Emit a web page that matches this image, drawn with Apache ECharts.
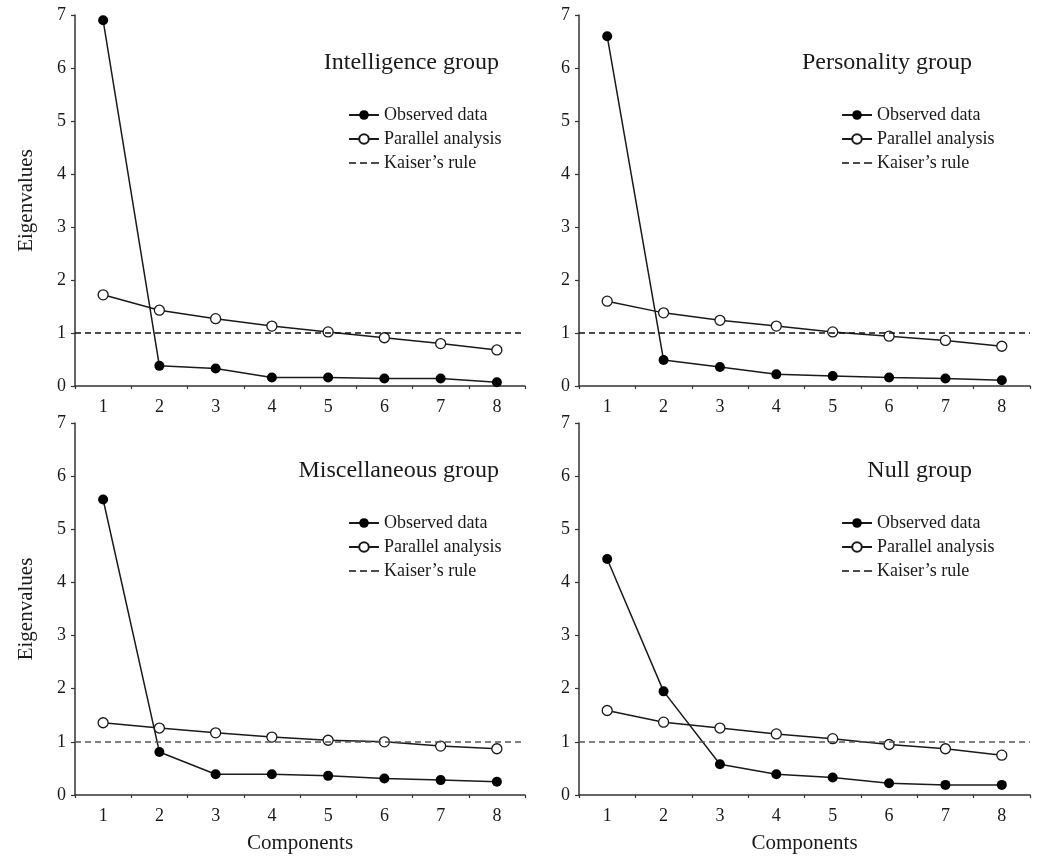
<!DOCTYPE html>
<html>
<head>
<meta charset="utf-8">
<title>Eigenvalues by group</title>
<script src="https://cdn.jsdelivr.net/npm/echarts@6/dist/echarts.min.js"></script>
<style>
  html, body { margin: 0; padding: 0; background: #fff; }
  #chart { width: 1040px; height: 857px; }
</style>
</head>
<body>
<div id="chart"></div>
<script>
// --- data ---
const components = ['1', '2', '3', '4', '5', '6', '7', '8']
const yTicks = [0, 1, 2, 3, 4, 5, 6, 7]
const kaiserValue = 1

const intelligenceObserved = [6.90, 0.38, 0.33, 0.16, 0.16, 0.14, 0.14, 0.07]
const intelligenceParallel = [1.72, 1.43, 1.27, 1.13, 1.02, 0.91, 0.80, 0.68]

const personalityObserved = [6.60, 0.49, 0.36, 0.22, 0.19, 0.16, 0.14, 0.11]
const personalityParallel = [1.60, 1.38, 1.24, 1.13, 1.02, 0.94, 0.86, 0.75]

const miscObserved = [5.56, 0.81, 0.39, 0.39, 0.36, 0.31, 0.28, 0.25]
const miscParallel = [1.36, 1.26, 1.17, 1.09, 1.03, 1.00, 0.92, 0.87]

const nullObserved = [4.44, 1.95, 0.58, 0.39, 0.33, 0.22, 0.19, 0.19]
const nullParallel = [1.59, 1.37, 1.26, 1.15, 1.06, 0.95, 0.87, 0.75]

const groupTitles = ['Intelligence group', 'Personality group', 'Miscellaneous group', 'Null group']
const legendNames = ['Observed data', 'Parallel analysis', "Kaiser\u2019s rule"]

const FONT = "'Liberation Serif', 'Times New Roman', serif"
const INK = '#1a1a1a'

// three short dashes for the Kaiser legend icon
const DASH_ICON = 'path://M0,5h7v1.6h-7zM11,5h7v1.6h-7zM22,5h8v1.6h-8z'

// --- panel layout ---
const panels = [
  { title: groupTitles[0], observed: intelligenceObserved, parallel: intelligenceParallel,
    grid: { left: 75, top: 15, width: 450, height: 371 }, titleRight: 541, legendLeft: 343,
    yName: 'Eigenvalues', xName: '', kaiserColor: '#111' },
  { title: groupTitles[1], observed: personalityObserved, parallel: personalityParallel,
    grid: { left: 579, top: 15, width: 451, height: 371 }, titleRight: 68, legendLeft: 836,
    yName: '', xName: '', kaiserColor: '#111' },
  { title: groupTitles[2], observed: miscObserved, parallel: miscParallel,
    grid: { left: 75, top: 423, width: 450, height: 372 }, titleRight: 541, legendLeft: 343,
    yName: 'Eigenvalues', xName: 'Components', kaiserColor: '#555' },
  { title: groupTitles[3], observed: nullObserved, parallel: nullParallel,
    grid: { left: 579, top: 423, width: 451, height: 372 }, titleRight: 68, legendLeft: 836,
    yName: '', xName: 'Components', kaiserColor: '#555' }
]

const axisLine = { show: true, lineStyle: { color: '#333', width: 1.5 } }

const chart = echarts.init(document.getElementById('chart'))

const option = {
  backgroundColor: '#fff',
  animation: false,
  title: panels.map(p => ({
    text: p.title,
    right: p.titleRight,
    top: p.grid.top + 36,
    padding: 0,
    textStyle: { fontFamily: FONT, fontSize: 24, fontWeight: 'normal', color: INK }
  })),
  legend: panels.map(p => ({
    data: [
      { name: legendNames[0] },
      { name: legendNames[1] },
      { name: legendNames[2], icon: DASH_ICON, itemStyle: { color: '#111' } }
    ],
    orient: 'vertical',
    left: p.legendLeft,
    top: p.grid.top + 86,
    itemWidth: 30,
    itemHeight: 12,
    itemGap: 6,
    selectedMode: false,
    textStyle: { fontFamily: FONT, fontSize: 18, color: INK }
  })),
  grid: panels.map(p => ({ ...p.grid, containLabel: false })),
  xAxis: panels.map((p, i) => ({
    type: 'category',
    gridIndex: i,
    data: components,
    boundaryGap: true,
    name: p.xName,
    nameLocation: 'middle',
    nameGap: 38,
    nameTextStyle: { fontFamily: FONT, fontSize: 21, color: INK },
    axisLine,
    axisTick: { show: true, interval: 0, length: 3, lineStyle: { color: '#333', width: 1.2 } },
    axisLabel: { fontFamily: FONT, fontSize: 18, color: INK, margin: 12, interval: 0 },
    splitLine: { show: false }
  })),
  yAxis: panels.map((p, i) => ({
    type: 'value',
    gridIndex: i,
    min: yTicks[0],
    max: yTicks[yTicks.length - 1],
    interval: 1,
    name: p.yName,
    nameLocation: 'middle',
    nameGap: 38,
    nameRotate: 90,
    nameTextStyle: { fontFamily: FONT, fontSize: 21, color: INK },
    axisLine,
    axisTick: { show: true, length: 4, lineStyle: { color: '#333', width: 1.2 } },
    axisLabel: { fontFamily: FONT, fontSize: 18, color: INK, margin: 9 },
    splitLine: { show: false }
  })),
  series: panels.flatMap((p, i) => [
    {
      name: legendNames[2],
      type: 'line',
      xAxisIndex: i,
      yAxisIndex: i,
      data: [],
      symbol: 'none',
      lineStyle: { color: p.kaiserColor, width: 1.5, type: [6, 4] },
      itemStyle: { color: p.kaiserColor },
      markLine: {
        silent: true,
        symbol: 'none',
        label: { show: false },
        lineStyle: { color: p.kaiserColor, width: 1.5, type: [6, 4] },
        data: [{ yAxis: kaiserValue }]
      }
    },
    {
      name: legendNames[1],
      type: 'line',
      xAxisIndex: i,
      yAxisIndex: i,
      data: p.parallel,
      symbol: 'circle',
      symbolSize: 10,
      lineStyle: { color: INK, width: 1.5 },
      itemStyle: { color: '#fff', borderColor: INK, borderWidth: 1.3 }
    },
    {
      name: legendNames[0],
      type: 'line',
      xAxisIndex: i,
      yAxisIndex: i,
      data: p.observed,
      symbol: 'circle',
      symbolSize: 10,
      lineStyle: { color: INK, width: 1.5 },
      itemStyle: { color: '#000', borderColor: '#000', borderWidth: 0 }
    }
  ])
}

chart.setOption(option)
</script>
</body>
</html>
